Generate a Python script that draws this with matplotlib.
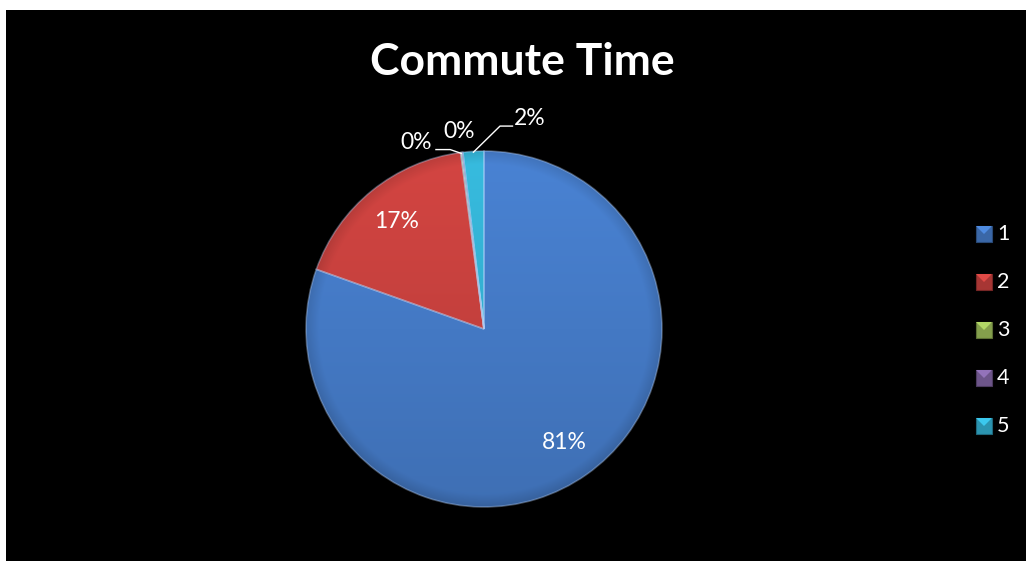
import numpy as np
import matplotlib
matplotlib.use("Agg")
import matplotlib.pyplot as plt
from matplotlib.patches import Rectangle, Polygon
from matplotlib.colors import to_rgb

# ---- data ----
categories = ["1", "2", "3", "4", "5"]
values = [80.6, 17.5, 0.1, 0.1, 1.9]
pct_labels = ["81%", "17%", "0%", "0%", "2%"]
colors = ["#4479C4", "#C4403D", "#9BBB59", "#8064A2", "#33AECF"]
title = "Commute Time"

FONT = ["Lato", "DejaVu Sans"]
W, H = 1026, 561
fig = plt.figure(figsize=(W / 100, H / 100), dpi=100)
fig.patch.set_facecolor("white")
fig.patches.append(Rectangle((6 / W, 0), 1 - 6 / W, 1 - 10 / H, transform=fig.transFigure,
                             facecolor="black", edgecolor="none", zorder=-5))

# pie axes: centre (484,329), radius 178 px
cx, cy, r = 484, 329, 178
ax = fig.add_axes([(cx - r) / W, (H - cy - r) / H, 2 * r / W, 2 * r / H])
ax.set_zorder(2)
ax.set_facecolor("none")
ax.axis("off")

wedges, _ = ax.pie(values, colors=colors, startangle=90, counterclock=False,
                   radius=1.0, wedgeprops=dict(edgecolor=(0.75, 0.85, 1.0, 0.35), linewidth=1.2))
ax.set_xlim(-1, 1)
ax.set_ylim(-1, 1)

# gradient shading clipped to each wedge
yy = np.linspace(1, -1, 256)[:, None] * np.ones((1, 256))
xx = np.ones((256, 1)) * np.linspace(-1, 1, 256)[None, :]
rr = np.sqrt(xx ** 2 + yy ** 2)
for w, c in zip(wedges, colors):
    base = np.array(to_rgb(c))
    shade = 1.08 - 0.16 * (1 - yy) / 2
    rim = np.clip((rr - 0.93) / 0.07, 0, 1) * 0.12
    img = np.clip(base[None, None, :] * (shade - rim)[:, :, None], 0, 1)
    im = ax.imshow(img, extent=(-1, 1, -1, 1), zorder=w.get_zorder() + 0.1,
                   interpolation="bilinear")
    im.set_clip_path(w)
    w.set_zorder(w.get_zorder() + 0.2)
    w.set_facecolor("none")
ax.set_xlim(-1, 1)
ax.set_ylim(-1, 1)

# labels
total = sum(values)
angles = []
acc = 0
for v in values:
    mid = 90 - 360 * (acc + v / 2) / total
    angles.append(np.deg2rad(mid))
    acc += v

lab_kw = dict(color="white", fontsize=16.5, family=FONT, ha="center", va="center")
for i in (0, 1):
    a = angles[i]
    ax.text(0.78 * np.cos(a), 0.78 * np.sin(a), pct_labels[i], zorder=5, **lab_kw)

# small slices with leader lines (label positions in axes data units)
small_pos = {2: (-0.38, 1.05), 3: (-0.14, 1.107), 4: (0.255, 1.185)}
for i, (tx, ty) in small_pos.items():
    ax.text(tx, ty, pct_labels[i], clip_on=False, zorder=5, **lab_kw)
a = angles[2]
ax.plot([-0.27, -0.19, np.cos(a) * 1.0], [1.008, 1.008, np.sin(a) * 0.995],
        color="white", lw=1.0, clip_on=False, zorder=5)
a = angles[4]
ax.plot([0.16, 0.09, np.cos(a) * 1.0], [1.14, 1.14, np.sin(a) * 0.995],
        color="white", lw=1.0, clip_on=False, zorder=5)

# title
fig.text(522 / W, 1 - 62 / H, title, color="white", fontsize=32, fontweight="bold",
         family=FONT, ha="center", va="center")

# legend
for k, (lab, c) in enumerate(zip(categories, colors)):
    yc = 234 + 48 * k
    x0, y0, s = 976, yc - 8, 16
    base = np.array(to_rgb(c))
    fig.patches.append(Rectangle((x0 / W, 1 - (y0 + s) / H), s / W, s / H,
                                 transform=fig.transFigure, facecolor=base * 0.85,
                                 edgecolor=base * 0.6, linewidth=0.8, zorder=3))
    tri = [(x0 / W, 1 - y0 / H), ((x0 + s) / W, 1 - y0 / H),
           ((x0 + s / 2) / W, 1 - (y0 + s / 2) / H)]
    fig.patches.append(Polygon(tri, closed=True, transform=fig.transFigure,
                               facecolor=np.clip(base * 1.15, 0, 1), edgecolor="none", zorder=4))
    fig.text(997 / W, 1 - yc / H, lab, color="white", fontsize=15.5, family=FONT,
             ha="left", va="center")

fig.savefig("out.png", dpi=100, facecolor=fig.get_facecolor())
